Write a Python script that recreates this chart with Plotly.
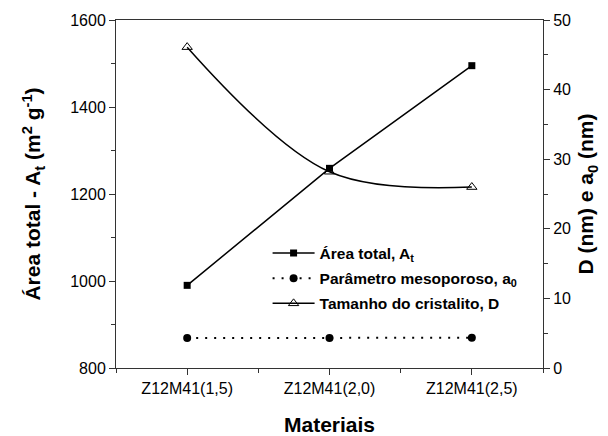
import plotly.graph_objects as go

materiais = ["Z12M41(1,5)", "Z12M41(2,0)", "Z12M41(2,5)"]
area_total = [990, 1259, 1495]
parametro_a0 = [4.3, 4.3, 4.35]
tamanho_D = [46.1, 28.2, 26.0]

xs = list(range(len(materiais)))

fig = go.Figure()
fig.add_trace(go.Scatter(
    x=xs, y=area_total, mode="lines+markers", legendgroup="a",
    name="Área total, A<sub>t</sub>",
    line=dict(color="black", width=1.5),
    marker=dict(symbol="square", size=7, color="black"),
))
fig.add_trace(go.Scatter(
    x=xs, y=parametro_a0, mode="lines+markers", yaxis="y2", legendgroup="b",
    name="Parâmetro mesoporoso, a<sub>0</sub>",
    line=dict(color="black", width=2, dash="2px,7px"),
    marker=dict(symbol="circle", size=8, color="black"),
))
fig.add_trace(go.Scatter(
    x=xs, y=tamanho_D, mode="lines+markers", yaxis="y2", legendgroup="c",
    name="Tamanho do cristalito, D",
    line=dict(color="black", width=1.5, shape="spline"),
    marker=dict(symbol="triangle-up-open", size=9, color="black", line=dict(width=1)),
))

axis_font = dict(family="Liberation Sans, Arial", size=16, color="black")
title_font = dict(family="Liberation Sans, Arial", size=21, color="black")

# page body has an 8px margin: figure is sized to fit the 608x436 window
fig.update_layout(
    width=600, height=428,
    margin=dict(l=108, r=65, t=12, b=68),
    plot_bgcolor="white", paper_bgcolor="white",
    showlegend=True,
    legend=dict(
        x=0.355, y=0.378, xanchor="left", yanchor="top",
        bgcolor="rgba(0,0,0,0)",
        font=dict(family="Liberation Sans, Arial", size=15.5, color="black", weight="bold"),
        tracegroupgap=2, itemwidth=42,
    ),
    xaxis=dict(
        range=[-0.5, 2.5], tickvals=xs, ticktext=materiais, automargin=False,
        showline=True, linecolor="#333", linewidth=1, mirror=True,
        ticks="outside", ticklen=6, tickcolor="#333",
        minor=dict(ticks="outside", ticklen=4, dtick=0.5, tick0=0, tickcolor="#333"),
        showgrid=False, zeroline=False, tickfont=axis_font,
        title=dict(text="<b>Materiais</b>", font=title_font, standoff=22),
    ),
    yaxis=dict(
        range=[800, 1600], dtick=200, automargin=False,
        showline=True, linecolor="#333", linewidth=1,
        ticks="outside", ticklen=6, tickcolor="#333",
        minor=dict(ticks="outside", ticklen=4, dtick=100, tickcolor="#333"),
        showgrid=False, zeroline=False, tickfont=axis_font,
        title=dict(text="<b>Área total - A<sub>t</sub> (m<sup>2</sup> g<sup>-1</sup>)</b>",
                   font=title_font, standoff=23),
    ),
    yaxis2=dict(
        range=[0, 50], dtick=10, overlaying="y", side="right", automargin=False,
        showline=True, linecolor="#333", linewidth=1,
        ticks="outside", ticklen=6, tickcolor="#333",
        minor=dict(ticks="outside", ticklen=4, dtick=5, tickcolor="#333"),
        showgrid=False, zeroline=False, tickfont=axis_font,
        title=dict(text="<b>D (nm) e a<sub>0</sub> (nm)</b>", font=title_font, standoff=8),
    ),
)

fig.write_html("out.html")
